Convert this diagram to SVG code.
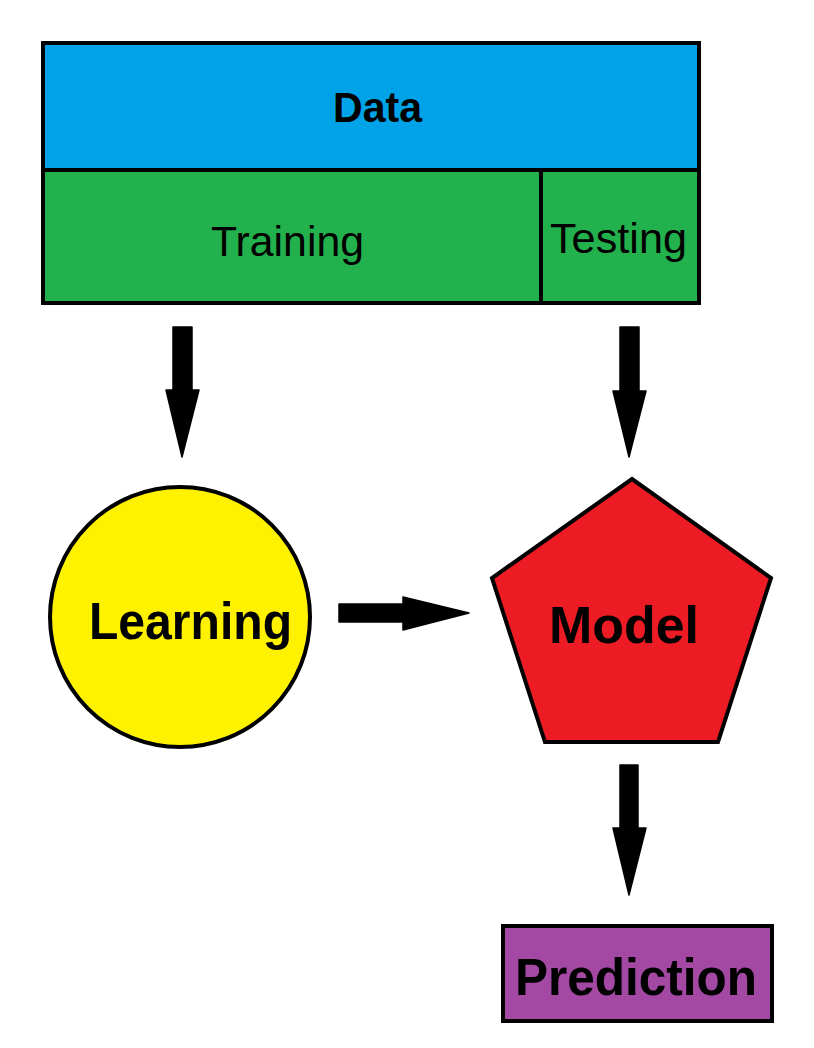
<svg xmlns="http://www.w3.org/2000/svg" width="814" height="1048" viewBox="0 0 814 1048">
  <style>
    .box { stroke: #000; stroke-width: 4; stroke-linejoin: miter; }
    .lbl { font-family: "Liberation Sans", Arial, sans-serif; fill: #000; }
    .b { font-weight: bold; }
    .arrow { fill: #000; stroke: #000; stroke-width: 1.5; stroke-linejoin: round; }
  </style>
  <rect width="814" height="1048" fill="#fff"/>
  <g id="data">
    <rect class="box" x="43" y="43" width="656" height="127" fill="#00A2E8"/>
    <text class="lbl b" x="333" y="122" font-size="42" textLength="89" lengthAdjust="spacingAndGlyphs">Data</text>
  </g>
  <g id="training">
    <rect class="box" x="43" y="170" width="498" height="133" fill="#22B14C"/>
    <text class="lbl" x="211" y="256" font-size="42" textLength="153" lengthAdjust="spacingAndGlyphs">Training</text>
  </g>
  <g id="testing">
    <rect class="box" x="541" y="170" width="158" height="133" fill="#22B14C"/>
    <text class="lbl" x="550" y="253" font-size="42" textLength="137" lengthAdjust="spacingAndGlyphs">Testing</text>
  </g>
  <g id="learning">
    <circle class="box" cx="180" cy="617" r="130" fill="#FFF200"/>
    <text class="lbl b" x="89" y="639" font-size="52" textLength="203" lengthAdjust="spacingAndGlyphs">Learning</text>
  </g>
  <g id="model">
    <polygon class="box" points="632,479 771,578 718,742 545,742 492,578" fill="#ED1C24"/>
    <text class="lbl b" x="549" y="643" font-size="52" textLength="150" lengthAdjust="spacingAndGlyphs">Model</text>
  </g>
  <g id="prediction">
    <rect class="box" x="503" y="926" width="269" height="95" fill="#A349A4"/>
    <text class="lbl b" x="515" y="995" font-size="52" textLength="242" lengthAdjust="spacingAndGlyphs">Prediction</text>
  </g>
  <g id="connectors">
    <polygon class="arrow" points="173,327 192,327 192,390 199,390 182,457 166,390 173,390"/>
    <polygon class="arrow" points="620,327 639,327 639,391 646,391 629,457 613,391 620,391"/>
    <polygon class="arrow" points="339,604 403,604 403,597 469,613 403,630 403,622 339,622"/>
    <polygon class="arrow" points="620,765 638,765 638,828 646,828 629,895 613,828 620,828"/>
  </g>
</svg>
